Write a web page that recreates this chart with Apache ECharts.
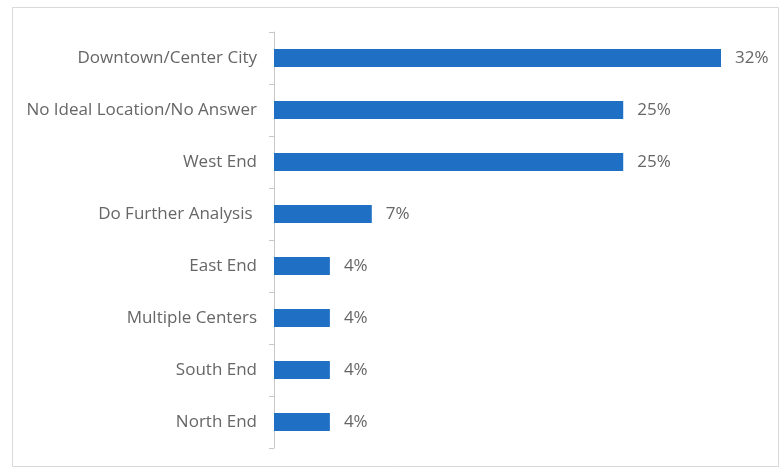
<!DOCTYPE html>
<html>
<head>
<meta charset="utf-8">
<script src="https://cdn.jsdelivr.net/npm/echarts@6/dist/echarts.min.js"></script>
<style>
    html, body { margin: 0; padding: 0; background: #ffffff; }
    #char1 { width: 781px; height: 472px; }
</style>
</head>
<body>
<div id="char1"></div>
<script>
// categories from top to bottom
var categories = ['Downtown/Center City', 'No Ideal Location/No Answer', 'West End', 'Do Further Analysis ',
    'East End', 'Multiple Centers', 'South End', 'North End'];
var values = [32, 25, 25, 7, 4, 4, 4, 4];

function char1() {
    var myChart = echarts.init(document.getElementById('char1'));
    var option = {
        backgroundColor: '#ffffff',
        animation: false,
        graphic: [
            {
                type: 'rect',
                shape: { x: 12.5, y: 7.5, width: 766, height: 459 },
                style: { fill: 'none', stroke: '#d9d9d9', lineWidth: 1 }
            }
        ],
        grid: {
            left: 274,
            right: 60,
            top: 32,
            bottom: 24
        },
        xAxis: {
            type: 'value',
            min: 0,
            max: 32,
            show: false
        },
        yAxis: {
            type: 'category',
            inverse: true,
            data: categories,
            axisLine: { show: true, lineStyle: { color: '#c8c8c8', width: 1 } },
            axisTick: { show: true, length: 5, lineStyle: { color: '#c8c8c8' } },
            axisLabel: {
                margin: 17,
                color: '#666666',
                fontSize: 17,
                fontFamily: 'Open Sans'
            }
        },
        series: [
            {
                type: 'bar',
                data: values,
                barWidth: 18,
                itemStyle: { color: '#1f6fc5' },
                label: {
                    show: true,
                    position: 'right',
                    distance: 14,
                    formatter: '{c}%',
                    color: '#666666',
                    fontSize: 17,
                    fontFamily: 'Open Sans'
                }
            }
        ]
    };
    myChart.setOption(option);
    window.addEventListener('resize', function () { myChart.resize(); })
}
char1();
</script>
</body>
</html>
